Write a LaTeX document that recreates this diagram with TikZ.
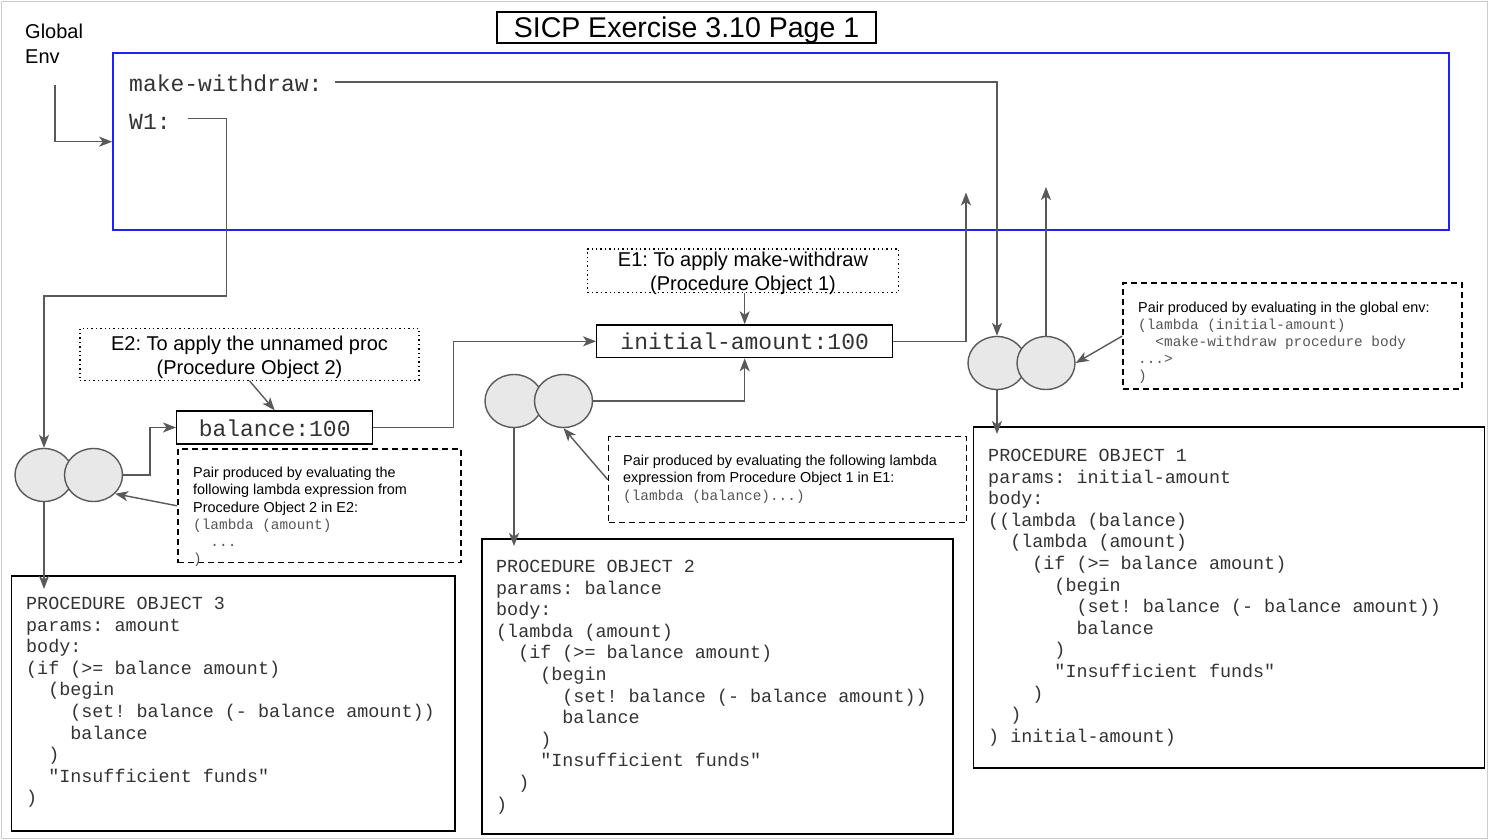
\documentclass[tikz,border=0pt]{standalone}
\usepackage{fontspec}
\setmainfont{Liberation Sans}
\setmonofont{Liberation Mono}
\usetikzlibrary{arrows.meta,shapes.geometric}
\definecolor{lgray}{HTML}{595959}
\definecolor{codec}{HTML}{333333}
\definecolor{notem}{HTML}{555555}
\definecolor{cfill}{HTML}{E8E8E8}
\definecolor{envblue}{HTML}{1F1FFF}
\definecolor{framec}{HTML}{CCCCCC}
\newcommand{\fs}[2]{\fontsize{#1}{#2}\selectfont}
\newcommand{\ic}[1]{\hspace*{#1\fontcharwd\font`x}}
\newcommand{\nm}{\ttfamily\color{notem}}
\frenchspacing
\begin{document}
\begin{tikzpicture}[x=1pt,y=-1pt,
  line/.style={draw=lgray, line width=1.4pt},
  conn/.style={line, -{Stealth[length=13pt,width=10pt,inset=3.5pt]}},
  sbox/.style={draw=black, line width=1.4pt, inner sep=0},
  dashbox/.style={draw=black, line width=1.4pt, inner sep=0, dash pattern=on 6pt off 4pt},
  dotbox/.style={draw=black, line width=1.3pt, inner sep=0, dash pattern=on 1.4pt off 3pt},
  dottext/.style={inner sep=0, align=center, font=\fs{20}{24.5}},
  pairc/.style={ellipse, draw=lgray, line width=1.4pt, fill=cfill, inner sep=0, minimum width=58pt, minimum height=53pt},
  code/.style={anchor=north west, inner sep=0, align=left, font=\ttfamily\fs{18.4}{21.6}, text=codec},
  notetext/.style={anchor=north west, inner sep=0, align=left, font=\fs{14.4}{17.2}},
  bigmono/.style={font=\ttfamily\fs{23}{26}, text=codec}
]
\useasboundingbox (0,0) rectangle (1489,840);
\node[draw=framec, line width=1.5pt, inner sep=0, minimum width=1486pt, minimum height=837pt] (frame) at (744.5,420) {};

% title
\node[sbox, minimum width=379pt, minimum height=31pt] (title) at (686.5,27.5) {};
\node[anchor=base, inner sep=0, font=\fs{28.5}{30}] (titlet) at (686.5,38) {SICP Exercise 3.10 Page 1};

% global env
\node[anchor=north west, inner sep=0, align=left, font=\fs{20}{25}] (glabel) at (25,24) {Global\\Env};
\node[draw=envblue, line width=2pt, inner sep=0, minimum width=1336pt, minimum height=177pt] (genv) at (781.2,141.7) {};
\node[bigmono, anchor=base west, inner sep=0] (mw) at (129,92) {make-withdraw:};
\node[bigmono, anchor=base west, inner sep=0] (w1) at (129,129.3) {W1:};

% frames
\node[dotbox, minimum width=311pt, minimum height=43.5pt] (e1) at (743,270.7) {};
\node[dottext] (e1t) at (743,273.5) {E1: To apply make-withdraw\\(Procedure Object 1)};
\node[sbox, bigmono, minimum width=296pt, minimum height=32.7pt] (init) at (744.7,341.3) {};
\node[bigmono, anchor=base, inner sep=0] (initt) at (744.7,349) {initial-amount:100};
\node[dotbox, minimum width=339pt, minimum height=52pt] (e2) at (249.5,354.2) {};
\node[dottext] (e2t) at (249.5,357.5) {E2: To apply the unnamed proc\\(Procedure Object 2)};
\node[sbox, bigmono, minimum width=196pt, minimum height=33pt] (bal) at (274.7,427.5) {};
\node[bigmono, anchor=base, inner sep=0] (balt) at (274.7,436) {balance:100};

% pairs
\node[pairc] (p1a) at (997,363) {};
\node[pairc] (p1b) at (1046,363) {};
\node[pairc] (p2a) at (514,401) {};
\node[pairc] (p2b) at (563.5,401) {};
\node[pairc] (p3a) at (44,475) {};
\node[pairc] (p3b) at (93.5,475) {};

% notes
\node[dashbox, minimum width=339pt, minimum height=106pt] (n1) at (1292.5,336) {};
\node[notetext] (n1t) at (1138,301.5) {Pair produced by evaluating in the global env:\\
{\nm (lambda (initial-amount)}\\
{\nm \ic{2}<make-withdraw procedure body}\\
{\nm ...>}\\
{\nm )}};
\node[dashbox, minimum width=358pt, minimum height=86pt] (n2) at (787.5,479.7) {};
\node[notetext] (n2t) at (623,455) {Pair produced by evaluating the following lambda\\
expression from Procedure Object 1 in E1:\\
{\nm (lambda (balance)...)}};
\node[dashbox, minimum width=283pt, minimum height=113.7pt] (n3) at (319.3,505.8) {};
\node[notetext] (n3t) at (193,467) {Pair produced by evaluating the\\
following lambda expression from\\
Procedure Object 2 in E2:\\
{\nm (lambda (amount)}\\
{\nm \ic{2}...}\\
{\nm )}};

% procedure objects
\node[sbox, minimum width=511pt, minimum height=341pt] (po1) at (1229,597.5) {};
\node[code] (po1t) at (988,449) {PROCEDURE OBJECT 1\\
params: initial-amount\\
body:\\
((lambda (balance)\\
\ic{2}(lambda (amount)\\
\ic{4}(if (>= balance amount)\\
\ic{6}(begin\\
\ic{8}(set! balance (- balance amount))\\
\ic{8}balance\\
\ic{6})\\
\ic{6}"Insufficient funds"\\
\ic{4})\\
\ic{2})\\
) initial-amount)};

\node[sbox, minimum width=471pt, minimum height=295pt] (po2) at (717.5,686.5) {};
\node[code] (po2t) at (496,560) {PROCEDURE OBJECT 2\\
params: balance\\
body:\\
(lambda (amount)\\
\ic{2}(if (>= balance amount)\\
\ic{4}(begin\\
\ic{6}(set! balance (- balance amount))\\
\ic{6}balance\\
\ic{4})\\
\ic{4}"Insufficient funds"\\
\ic{2})\\
)};

\node[sbox, minimum width=443.5pt, minimum height=255pt] (po3) at (233.3,703.5) {};
\node[code] (po3t) at (26,597) {PROCEDURE OBJECT 3\\
params: amount\\
body:\\
(if (>= balance amount)\\
\ic{2}(begin\\
\ic{4}(set! balance (- balance amount))\\
\ic{4}balance\\
\ic{2})\\
\ic{2}"Insufficient funds"\\
)};

% helper coordinates
\coordinate (gs) at (55,85);
\coordinate (mws) at (335,82);
\coordinate (w1s) at (188,118.5);
\coordinate (w1c) at (226.5,296);
\coordinate (t1) at (966,192.5);
\coordinate (t2) at (1046,187);
\coordinate (a1) at (997,434);
\coordinate (a2) at (514,546);
\coordinate (a3) at (44,589);
\coordinate (bc) at (453.5,380);
\coordinate (pc) at (150,450);

% connectors
\draw[conn] (gs) |- (genv.west);
\draw[conn] (mws) -| (p1a.north);
\draw[conn] (w1s) -| (w1c) -| (p3a.north);
\draw[conn] (init.east) -| (t1);
\draw[conn] (p1b.north) -- (t2);
\draw[conn] (p1a.south) -- (a1);
\draw[conn] (n1.west) -- (p1b.east);
\draw[conn] (e1.south -| init.north) -- (init.north);
\draw[conn] (p2b.east) -| (init.south);
\draw[conn] (p2a.south) -- (a2);
\draw[conn] (n2.west) -- (p2b.south);
\draw[conn] (e2.south) -- (bal.north);
\draw[conn] (bal.east) -| (bc) |- (init.west);
\draw[conn] (p3b.east) -| (pc) |- (bal.west);
\draw[conn] (p3a.south) -- (a3);
\draw[conn] (n3.west) -- (p3b.-41);
\end{tikzpicture}
\end{document}
